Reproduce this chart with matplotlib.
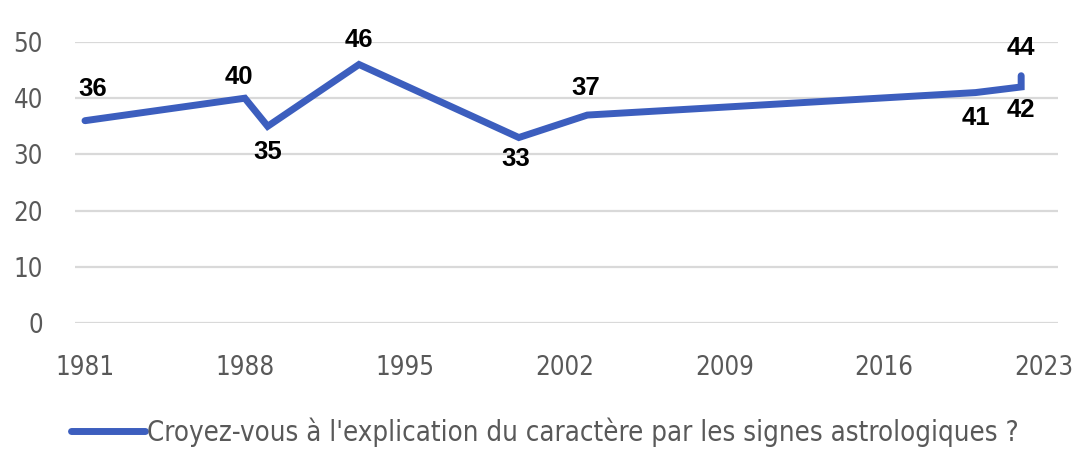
import matplotlib
matplotlib.use("Agg")
import matplotlib.pyplot as plt
from matplotlib.lines import Line2D

years = [1981, 1988, 1989, 1993, 2000, 2003, 2020, 2022, 2022]
values = [36, 40, 35, 46, 33, 37, 41, 42, 44]
labels = ["36", "40", "35", "46", "33", "37", "41", "42", "44"]
xticks = [1981, 1988, 1995, 2002, 2009, 2016, 2023]
yticks = [0, 10, 20, 30, 40, 50]
series_name = "Croyez-vous à l'explication du caractère par les signes astrologiques ?"

# label offsets in pixels (styling)
offsets = [(8, 32), (-6, 21), (0, -26), (0, 24), (-3, -21), (-2, 27), (0, -25), (0, -23), (0, 28)]

blue = "#3C5EBE"
grey_text = "#595959"
tick_kw = dict(family="DejaVu Sans", stretch="condensed", size=18.5, color=grey_text)

fig = plt.figure(figsize=(10.77, 4.49), dpi=100)
ax = fig.add_axes([75 / 1077, 1 - 323 / 449, (1058 - 75) / 1077, (323 - 42) / 449])

ax.plot(years, values, color=blue, lw=5, solid_joinstyle="miter", solid_capstyle="round", zorder=3)
ax.set_ylim(0, 50)
x0 = 1981 - 10 / 22.83
x1 = 2023 + 14 / 22.83
ax.set_xlim(x0, x1)
ax.set_yticks(yticks)
ax.set_xticks(xticks)
ax.set_yticklabels([str(v) for v in yticks], **tick_kw)
ax.set_xticklabels([str(v) for v in xticks], **tick_kw)
ax.yaxis.grid(True, color="#D9D9D9", lw=1.6)
ax.set_axisbelow(True)
for s in ax.spines.values():
    s.set_visible(False)
ax.tick_params(length=0)
ax.tick_params(axis="x", pad=23)
ax.tick_params(axis="y", pad=23)

for x, y, lab, off in zip(years, values, labels, offsets):
    ax.annotate(lab, (x, y), xytext=off, textcoords="offset pixels",
                ha="center", va="center", fontsize=18.5, fontweight="bold",
                family="Liberation Sans", color="black", zorder=4)

h = Line2D([0], [0], color=blue, lw=5, solid_capstyle="round")
leg = fig.legend([h], [series_name], loc="center", bbox_to_anchor=(545 / 1077, 1 - 432 / 449),
                 frameon=False, handlelength=2.7, handletextpad=0.08, borderpad=0.2,
                 prop={"family": "DejaVu Sans", "stretch": "condensed", "size": 19.8})
for t in leg.get_texts():
    t.set_color(grey_text)

fig.savefig("out.png", dpi=100)
